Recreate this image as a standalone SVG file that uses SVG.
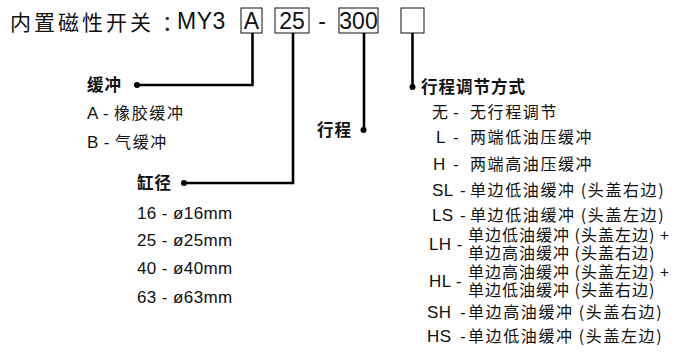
<svg xmlns="http://www.w3.org/2000/svg" width="680" height="360" viewBox="0 0 680 360">
<style>
  .lat { font-family: "Liberation Sans", Arial, "Noto Sans CJK SC", sans-serif; fill: #111; }
  .cjk { font-family: "Noto Sans CJK SC", "Liberation Sans", sans-serif; fill: #111; }
  .title { font-size: 21px; letter-spacing: 3px; }
  .code { font-size: 23px; }
  .head { font-size: 16.5px; font-weight: bold; letter-spacing: 1px; }
  .item { font-size: 17px; letter-spacing: 0.4px; }
  .ci { font-size: 16px; letter-spacing: 1.6px; font-family: "Noto Sans CJK SC", sans-serif; fill: #111; }
  .cn { letter-spacing: 1px; }
  .box { fill: none; stroke: #111; stroke-width: 1; }
  .wire { fill: none; stroke: #000; stroke-width: 2.6; }
  .dot { fill: #000; }
</style>
<rect width="680" height="360" fill="#fff"/>

<g id="title">
  <text class="cjk title" x="10" y="30">内置磁性开关 <tspan x="162" letter-spacing="0">：</tspan><tspan class="lat code" x="177" y="29" letter-spacing="0.5">MY3</tspan></text>
</g>

<g id="code-boxes">
  <rect class="box" x="241" y="8" width="21" height="25"/>
  <text class="lat code" x="251.5" y="29" text-anchor="middle">A</text>
  <rect class="box" x="275" y="8" width="34" height="25"/>
  <text class="lat code" x="292" y="29" text-anchor="middle">25</text>
  <text class="lat code" x="322" y="29" text-anchor="middle">-</text>
  <rect class="box" x="339" y="8" width="39" height="25"/>
  <text class="lat code" x="358.5" y="29" text-anchor="middle">300</text>
  <rect class="box" x="401" y="8" width="23" height="25"/>
</g>

<g id="connectors">
  <polyline class="wire" points="252.5,33 252.5,85 137,85"/>
  <circle class="dot" cx="137" cy="85" r="3"/>
  <polyline class="wire" points="293,33 293,183 184,183"/>
  <circle class="dot" cx="184" cy="183" r="3"/>
  <polyline class="wire" points="364,33 364,130"/>
  <circle class="dot" cx="363.5" cy="130" r="3"/>
  <polyline class="wire" points="412.5,33 412.5,87"/>
  <circle class="dot" cx="412.5" cy="87" r="3"/>
</g>

<g id="cushion">
  <text class="cjk head" x="87" y="91">缓冲</text>
  <text class="lat item" x="87" y="119">A - <tspan class="ci">橡胶缓冲</tspan></text>
  <text class="lat item" x="87" y="148">B - <tspan class="ci">气缓冲</tspan></text>
</g>

<g id="bore">
  <text class="cjk head" x="137" y="189">缸径</text>
  <text class="lat item" x="137" y="219">16 - ø16mm</text>
  <text class="lat item" x="137" y="246">25 - ø25mm</text>
  <text class="lat item" x="137" y="274">40 - ø40mm</text>
  <text class="lat item" x="137" y="303">63 - ø63mm</text>
</g>

<g id="stroke">
  <text class="cjk head" x="317" y="136">行程</text>
</g>

<g id="adjust">
  <text class="cjk head" x="421" y="93">行程调节方式</text>
  <text class="lat item" x="432" y="118"><tspan class="ci">无</tspan><tspan x="453">-</tspan><tspan class="ci" x="470">无行程调节</tspan></text>
  <text class="lat item" x="436" y="143">L<tspan x="453">-</tspan><tspan class="ci" x="470">两端低油压缓冲</tspan></text>
  <text class="lat item" x="433" y="170">H<tspan x="453">-</tspan><tspan class="ci" x="470">两端高油压缓冲</tspan></text>
  <text class="lat item" x="432" y="196">SL<tspan x="460">-</tspan><tspan class="ci" x="470">单边低油缓冲 (头盖右边)</tspan></text>
  <text class="lat item" x="432" y="221">LS<tspan x="460">-</tspan><tspan class="ci" x="470">单边低油缓冲 (头盖左边)</tspan></text>
  <text class="lat item" x="429" y="250">LH -</text>
  <text class="ci cn" x="468" y="241">单边低油缓冲 (头盖左边) +</text>
  <text class="ci cn" x="468" y="259">单边高油缓冲 (头盖右边)</text>
  <text class="lat item" x="429" y="287">HL -</text>
  <text class="ci cn" x="468" y="278">单边高油缓冲 (头盖左边) +</text>
  <text class="ci cn" x="468" y="296">单边低油缓冲 (头盖右边)</text>
  <text class="lat item" x="427" y="318">SH<tspan x="460">-</tspan><tspan class="ci" x="468">单边高油缓冲 (头盖右边)</tspan></text>
  <text class="lat item" x="427" y="342">HS<tspan x="460">-</tspan><tspan class="ci" x="468">单边低油缓冲 (头盖左边)</tspan></text>
</g>
</svg>
